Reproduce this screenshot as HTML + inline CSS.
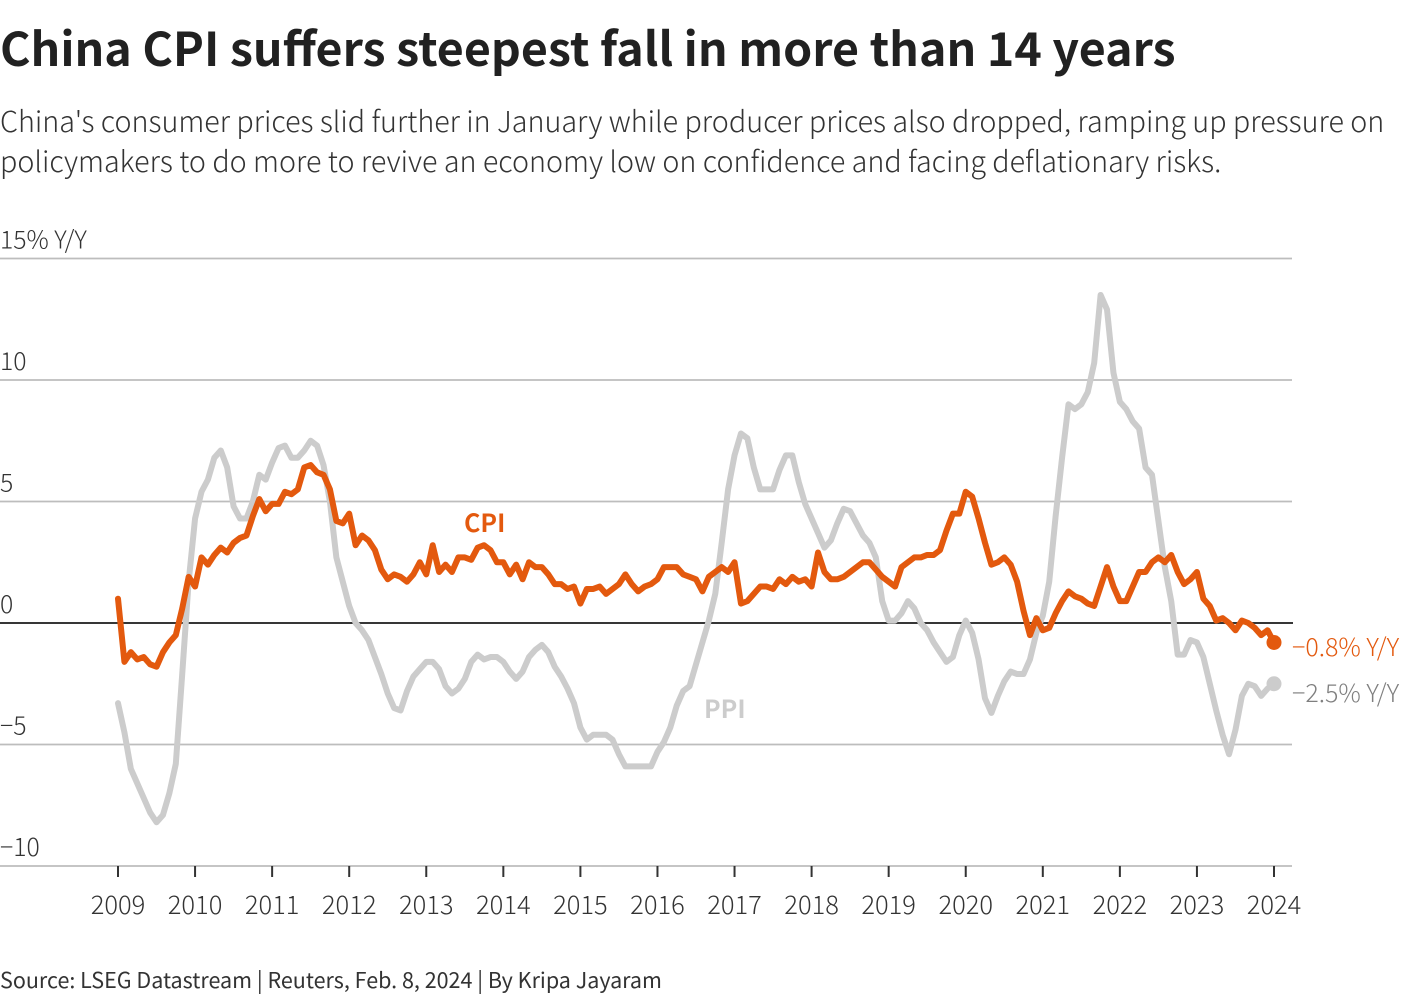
<!DOCTYPE html>
<html lang="en">
<head>
<meta charset="utf-8">
<title>China CPI suffers steepest fall in more than 14 years</title>
<style>
  html, body { margin: 0; padding: 0; background: #fff; }
  body { width: 1420px; height: 1000px; position: relative; overflow: hidden;
         font-family: "Noto Sans CJK SC", "Liberation Sans", sans-serif; color: #1f1f1f; }
  .t { position: absolute; left: 0; white-space: nowrap; margin: 0; }
  #chart-title { top: 12px; font-size: 46.55px; line-height: 70px; font-weight: 700; color: #212121; }
  #chart-subtitle { top: 101px; font-size: 28.7px; line-height: 40px; font-weight: 300; color: #333333; }
  #chart-source { top: 964px; font-size: 21.5px; line-height: 32px; font-weight: 400; color: #333333; }
  svg { position: absolute; left: 0; top: 0; }
  svg text { font-family: "Noto Sans CJK SC", "Liberation Sans", sans-serif; }
</style>
</head>
<body>
<h1 class="t" id="chart-title">China CPI suffers steepest fall in more than 14 years</h1>
<p class="t" id="chart-subtitle">China's consumer prices slid further in January while producer prices also dropped, ramping up pressure on<br>policymakers to do more to revive an economy low on confidence and facing deflationary risks.</p>
<svg id="plot" width="1420" height="1000" viewBox="0 0 1420 1000"></svg>
<p class="t" id="chart-source">Source: LSEG Datastream | Reuters, Feb. 8, 2024 | By Kripa Jayaram</p>
<script>
const yearLabels = ["2009","2010","2011","2012","2013","2014","2015","2016","2017","2018","2019","2020","2021","2022","2023","2024"];
const yTicks = [15, 10, 5, 0, -5, -10];
const yTickLabels = ["15% Y/Y", "10", "5", "0", "\u22125", "\u221210"];
const cpiValues = [
  1.0,-1.6,-1.2,-1.5,-1.4,-1.7,-1.8,-1.2,-0.8,-0.5,0.6,1.9,
  1.5,2.7,2.4,2.8,3.1,2.9,3.3,3.5,3.6,4.4,5.1,4.6,
  4.9,4.9,5.4,5.3,5.5,6.4,6.5,6.2,6.1,5.5,4.2,4.1,
  4.5,3.2,3.6,3.4,3.0,2.2,1.8,2.0,1.9,1.7,2.0,2.5,
  2.0,3.2,2.1,2.4,2.1,2.7,2.7,2.6,3.1,3.2,3.0,2.5,
  2.5,2.0,2.4,1.8,2.5,2.3,2.3,2.0,1.6,1.6,1.4,1.5,
  0.8,1.4,1.4,1.5,1.2,1.4,1.6,2.0,1.6,1.3,1.5,1.6,
  1.8,2.3,2.3,2.3,2.0,1.9,1.8,1.3,1.9,2.1,2.3,2.1,
  2.5,0.8,0.9,1.2,1.5,1.5,1.4,1.8,1.6,1.9,1.7,1.8,
  1.5,2.9,2.1,1.8,1.8,1.9,2.1,2.3,2.5,2.5,2.2,1.9,
  1.7,1.5,2.3,2.5,2.7,2.7,2.8,2.8,3.0,3.8,4.5,4.5,
  5.4,5.2,4.3,3.3,2.4,2.5,2.7,2.4,1.7,0.5,-0.5,0.2,
  -0.3,-0.2,0.4,0.9,1.3,1.1,1.0,0.8,0.7,1.5,2.3,1.5,
  0.9,0.9,1.5,2.1,2.1,2.5,2.7,2.5,2.8,2.1,1.6,1.8,
  2.1,1.0,0.7,0.1,0.2,0.0,-0.3,0.1,0.0,-0.2,-0.5,-0.3,
  -0.8
];
const ppiValues = [
  -3.3,-4.5,-6.0,-6.6,-7.2,-7.8,-8.2,-7.9,-7.0,-5.8,-2.1,1.7,
  4.3,5.4,5.9,6.8,7.1,6.4,4.8,4.3,4.3,5.0,6.1,5.9,
  6.6,7.2,7.3,6.8,6.8,7.1,7.5,7.3,6.5,5.0,2.7,1.7,
  0.7,0.0,-0.3,-0.7,-1.4,-2.1,-2.9,-3.5,-3.6,-2.8,-2.2,-1.9,
  -1.6,-1.6,-1.9,-2.6,-2.9,-2.7,-2.3,-1.6,-1.3,-1.5,-1.4,-1.4,
  -1.6,-2.0,-2.3,-2.0,-1.4,-1.1,-0.9,-1.2,-1.8,-2.2,-2.7,-3.3,
  -4.3,-4.8,-4.6,-4.6,-4.6,-4.8,-5.4,-5.9,-5.9,-5.9,-5.9,-5.9,
  -5.3,-4.9,-4.3,-3.4,-2.8,-2.6,-1.7,-0.8,0.1,1.2,3.3,5.5,
  6.9,7.8,7.6,6.4,5.5,5.5,5.5,6.3,6.9,6.9,5.8,4.9,
  4.3,3.7,3.1,3.4,4.1,4.7,4.6,4.1,3.6,3.3,2.7,0.9,
  0.1,0.1,0.4,0.9,0.6,0.0,-0.3,-0.8,-1.2,-1.6,-1.4,-0.5,
  0.1,-0.4,-1.5,-3.1,-3.7,-3.0,-2.4,-2.0,-2.1,-2.1,-1.5,-0.4,
  0.3,1.7,4.4,6.8,9.0,8.8,9.0,9.5,10.7,13.5,12.9,10.3,
  9.1,8.8,8.3,8.0,6.4,6.1,4.2,2.3,0.9,-1.3,-1.3,-0.7,
  -0.8,-1.4,-2.5,-3.6,-4.6,-5.4,-4.4,-3.0,-2.5,-2.6,-3.0,-2.7,
  -2.5
];
const cpiLatestLabel = "\u22120.8% Y/Y";
const ppiLatestLabel = "\u22122.5% Y/Y";

const svg = document.getElementById('plot');
const NS = 'http://www.w3.org/2000/svg';
const CPI_COLOR = '#e3590e';
const PPI_COLOR = '#cccccc';

function xAt(monthIndex) { return 118 + monthIndex * (1274 - 118) / 180; }
function yAt(value) { return 623 - value * 24.3; }

function make(tag, attrs, text) {
  const el = document.createElementNS(NS, tag);
  for (const k in attrs) el.setAttribute(k, attrs[k]);
  if (text !== undefined) el.textContent = text;
  svg.appendChild(el);
  return el;
}
function linePath(values) {
  return values.map((v, i) => (i ? 'L' : 'M') + xAt(i).toFixed(2) + ' ' + yAt(v).toFixed(2)).join('');
}

yTicks.forEach((t, i) => {
  const line = make('line', { x1: 0, x2: t === 0 ? 1293 : 1292, y1: yAt(t), y2: yAt(t),
    stroke: t === 0 ? '#1a1a1a' : '#bdbdbd', 'stroke-width': 1.8 });
  
  
  const label = make('text', { x: 0, y: yAt(t) - 10, 'font-size': 24.8, 'font-weight': 300, fill: '#333333' }, yTickLabels[i]);
  
  
});

yearLabels.forEach((yr, i) => {
  const x = xAt(i * 12);
  const tick = make('line', { x1: x, x2: x, y1: yAt(-10), y2: yAt(-10) + 11, stroke: '#333333', 'stroke-width': 2 });
  
  
  const label = make('text', { x: x, y: 914, 'text-anchor': 'middle', 'font-size': 25.5, 'font-weight': 300, fill: '#333333' }, yr);
  
  
});

const ppiLine = make('path', { d: linePath(ppiValues), fill: 'none', stroke: PPI_COLOR, 'stroke-width': 6, 'stroke-linejoin': 'round', 'stroke-linecap': 'round' });


const ppiDot = make('circle', { cx: xAt(ppiValues.length - 1), cy: yAt(ppiValues[ppiValues.length - 1]), r: 7.5, fill: PPI_COLOR });



const cpiLine = make('path', { d: linePath(cpiValues), fill: 'none', stroke: CPI_COLOR, 'stroke-width': 6, 'stroke-linejoin': 'round', 'stroke-linecap': 'round' });


const cpiDot = make('circle', { cx: xAt(cpiValues.length - 1), cy: yAt(cpiValues[cpiValues.length - 1]), r: 7.5, fill: CPI_COLOR });



const cpiName = make('text', { x: 464, y: 532, 'font-size': 25, 'font-weight': 700, fill: CPI_COLOR }, 'CPI');


const ppiName = make('text', { x: 704, y: 718, 'font-size': 25, 'font-weight': 700, fill: PPI_COLOR }, 'PPI');



const cpiEnd = make('text', { x: 1292, y: 656, 'font-size': 25, 'font-weight': 300, fill: CPI_COLOR }, cpiLatestLabel);


const ppiEnd = make('text', { x: 1292, y: 702, 'font-size': 25, 'font-weight': 300, fill: '#7f7f7f' }, ppiLatestLabel);


</script>
</body>
</html>
